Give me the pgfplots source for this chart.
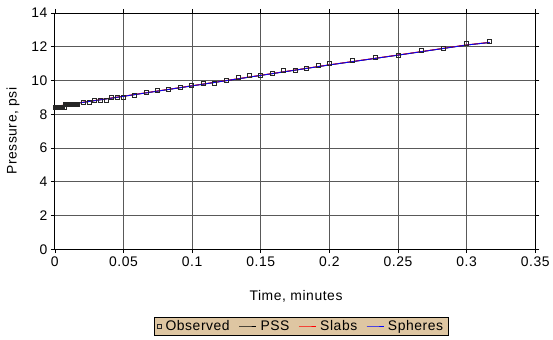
\documentclass[border=0pt]{standalone}
\usepackage{pgfplots}
\pgfplotsset{compat=1.18}
\usepackage{fontspec}
\setmainfont{Liberation Sans}[LetterSpace=4]
\definecolor{legtan}{RGB}{222,198,162}
\newcommand{\ff}{\fontsize{14}{16}\selectfont}
\begin{document}
\begin{tikzpicture}
\begin{axis}[
  scale only axis,
  width=482bp, height=237bp,
  xmin=0, xmax=0.35, ymin=0, ymax=14,
  xtick={0,0.05,...,0.35}, ytick={0,2,...,14},
  xticklabels={0,0.05,0.1,0.15,0.2,0.25,0.3,0.35},
  /pgf/number format/assume math mode=true,
  tick align=outside, major tick length=4bp,
  tick style={black, line width=0.6bp},
  axis line style={black, line width=0.8bp},
  grid=major,
  major grid style={black!65, line width=0.7bp},
  ticklabel style={font=\ff},
  xlabel={Time, minutes}, ylabel={Pressure, psi},
  label style={font=\ff},
  xlabel style={at={(axis description cs:0.502,-0.198)}, anchor=center},
  ylabel style={at={(axis description cs:-0.087,0.5)}, anchor=center},
  legend columns=-1,
  legend style={at={(axis description cs:0.513,-0.325)}, anchor=center,
    fill=legtan, draw=black,
    font=\ff,
    /tikz/every even column/.append style={column sep=7bp},
    /tikz/every odd column/.append style={column sep=2bp},
    inner xsep=3bp, inner ysep=1.5bp},
]
\addplot[only marks, mark=square, mark size=2bp, draw=black!85, mark options={line width=0.6bp}]
 coordinates {
(0,8.43) (0.0008,8.43) (0.0017,8.43) (0.0025,8.43) (0.0033,8.43) (0.0042,8.43)
(0.005,8.43) (0.0058,8.43) (0.0067,8.43) (0.0075,8.57) (0.0083,8.57) (0.0092,8.57)
(0.01,8.57) (0.0108,8.57) (0.0117,8.57) (0.0125,8.57) (0.0133,8.57) (0.0142,8.57)
(0.015,8.57) (0.0158,8.57) (0.0167,8.57)
(0.0204,8.69) (0.025,8.69) (0.029,8.84) (0.033,8.84) (0.0372,8.84) (0.0414,9.0)
(0.0456,9.0) (0.0498,9.0)
(0.058,9.14) (0.0664,9.28) (0.0747,9.39) (0.083,9.45) (0.0914,9.58) (0.0997,9.73)
(0.108,9.86) (0.1164,9.86) (0.125,10.02) (0.1333,10.17) (0.1416,10.31) (0.15,10.31)
(0.1583,10.45) (0.1667,10.59) (0.175,10.61) (0.1833,10.75) (0.1917,10.88) (0.2,11.0)
(0.2167,11.2) (0.2333,11.36) (0.25,11.49) (0.2667,11.76) (0.2833,11.92) (0.3,12.18)
(0.3167,12.33)
};
\addlegendentry{Observed}
\addplot[draw=black, line width=0.9bp] coordinates {
(0,8.45) (0.05,9.06) (0.1,9.68) (0.15,10.3) (0.2,10.92) (0.25,11.5) (0.3,12.1) (0.3167,12.25)
};
\addlegendentry{PSS}
\addplot[draw=red, line width=0.9bp] coordinates {
(0,8.46) (0.05,9.07) (0.1,9.69) (0.15,10.31) (0.2,10.93) (0.25,11.51) (0.3,12.11) (0.3167,12.26)
};
\addlegendentry{Slabs}
\addplot[draw=blue, line width=0.8bp] coordinates {
(0,8.45) (0.05,9.06) (0.1,9.68) (0.15,10.3) (0.2,10.92) (0.25,11.5) (0.3,12.1) (0.3167,12.25)
};
\addlegendentry{Spheres}
\end{axis}
\path[use as bounding box] (-55bp,-91bp) rectangle (498bp,250bp);
\end{tikzpicture}
\end{document}
